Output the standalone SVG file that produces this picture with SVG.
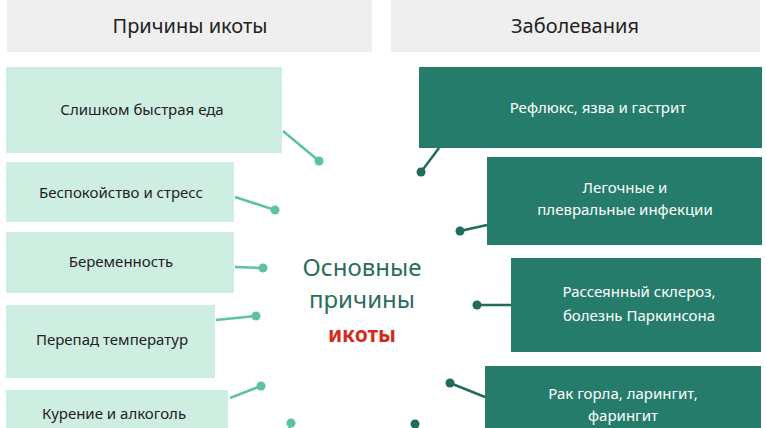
<svg xmlns="http://www.w3.org/2000/svg" width="766" height="428" viewBox="0 0 766 428">
<style>
text{font-family:"Noto Sans","Open Sans",sans-serif;text-anchor:middle}
.hd{fill:#efefef}.hdt{font-size:20px;fill:#222}
.l{fill:#cfeee2}.lt{font-size:15px;fill:#222}
.r{fill:#257c6b}.rt{font-size:15px;fill:#fff}
.cl line{stroke:#5cc2a3;stroke-width:2.5}.cl circle{fill:#5cc2a3}
.cr line{stroke:#1f6b5c;stroke-width:2.5}.cr circle{fill:#1f6b5c}
</style>
<rect width="766" height="428" fill="#fff"/>
<g id="hdr-left"><rect class="hd" x="7" y="0" width="365" height="52"/><text class="hdt" x="190" y="33">Причины икоты</text></g>
<g id="hdr-right"><rect class="hd" x="391" y="0" width="369" height="52"/><text class="hdt" x="575" y="33">Заболевания</text></g>
<g id="l1"><rect class="l" x="6" y="67" width="276" height="86"/><text class="lt" x="142" y="115">Слишком быстрая еда</text></g>
<g id="l2"><rect class="l" x="6" y="162" width="228" height="60"/><text class="lt" x="121" y="198">Беспокойство и стресс</text></g>
<g id="l3"><rect class="l" x="6" y="232" width="228" height="61"/><text class="lt" x="121" y="267">Беременность</text></g>
<g id="l4"><rect class="l" x="6" y="305" width="209" height="73"/><text class="lt" x="112" y="345">Перепад температур</text></g>
<g id="l5"><rect class="l" x="6" y="390" width="222" height="38"/><text class="lt" x="114" y="419">Курение и алкоголь</text></g>
<g id="r1"><rect class="r" x="419" y="67" width="343" height="81"/><text class="rt" x="598" y="113">Рефлюкс, язва и гастрит</text></g>
<g id="r2"><rect class="r" x="487" y="157" width="275" height="88"/><text class="rt" x="625" y="193">Легочные и</text><text class="rt" x="625" y="215">плевральные инфекции</text></g>
<g id="r3"><rect class="r" x="511" y="258" width="250" height="94"/><text class="rt" x="639" y="297">Рассеянный склероз,</text><text class="rt" x="639" y="321">болезнь Паркинсона</text></g>
<g id="r4"><rect class="r" x="485" y="366" width="276" height="62"/><text class="rt" x="623" y="399">Рак горла, ларингит,</text><text class="rt" x="623" y="421">фарингит</text></g>
<g id="center"><text x="362" y="276" font-size="24" fill="#2a6d5b">Основные</text><text x="362" y="308" font-size="24" fill="#2a6d5b">причины</text><text x="362" y="342" font-size="21" font-weight="bold" fill="#d42a1a">икоты</text></g>
<g id="connectors">
<g class="cl">
<line x1="283" y1="131" x2="319" y2="161"/><circle cx="319" cy="161" r="4.5"/>
<line x1="235" y1="197" x2="275" y2="210"/><circle cx="275" cy="210" r="4.5"/>
<line x1="235" y1="267" x2="263" y2="268"/><circle cx="263" cy="268" r="4.5"/>
<line x1="216" y1="320" x2="256" y2="316"/><circle cx="256" cy="316" r="4.5"/>
<line x1="230" y1="398" x2="261" y2="386"/><circle cx="261" cy="386" r="4.5"/>
<line x1="291" y1="423" x2="289" y2="430"/><circle cx="291" cy="423" r="4.5"/>
</g>
<g class="cr">
<line x1="439" y1="148" x2="421" y2="172"/><circle cx="421" cy="172" r="4.5"/>
<line x1="487" y1="225" x2="460" y2="231"/><circle cx="460" cy="231" r="4.5"/>
<line x1="511" y1="305" x2="477" y2="305"/><circle cx="477" cy="305" r="4.5"/>
<line x1="485" y1="397" x2="450" y2="383"/><circle cx="450" cy="383" r="4.5"/>
<line x1="415" y1="424" x2="418" y2="430"/><circle cx="415" cy="424" r="4.5"/>
</g>
</g>
</svg>
